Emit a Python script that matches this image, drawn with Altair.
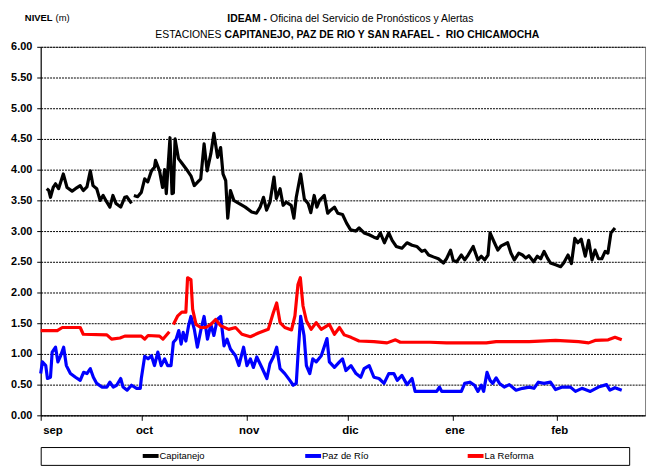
import altair as alt
import pandas as pd

FONT = "Liberation Sans, Arial, sans-serif"
START = pd.Timestamp("2010-09-01")

series_names = ["Capitanejo", "Paz de Río", "La Reforma"]
series_colors = ["#000000", "#0000FF", "#FF0000"]
month_abbr = ["ene", "feb", "mar", "abr", "may", "jun", "jul", "ago", "sep", "oct", "nov", "dic"]
tick_months = [(2010, 9), (2010, 10), (2010, 11), (2010, 12), (2011, 1), (2011, 2)]
y_ticks = [0, 0.5, 1, 1.5, 2, 2.5, 3, 3.5, 4, 4.5, 5, 5.5, 6]

# days after 1 Sep
cap_days = [1.8, 2.4, 2.9, 3.7, 4.4, 5.3, 6.7, 7.8, 9.3, 10.3,
            11.7, 12.6, 13.7, 14.7, 15.5, 16.6, 17.6, 18.5, 19.6, 20.5,
            21.4, 22.3, 23.7, 24.9, 25.5, 26.9, 27.6, 28.7, 29.8, 30.8,
            31.7, 32.8, 33.7, 34.0, 35.2, 36.1, 36.7, 37.2, 38.3, 38.9,
            39.3, 39.8, 40.8, 41.9, 43.0, 44.5, 45.5, 46.9, 47.4, 48.4,
            49.3, 50.4, 51.3, 52.4, 53.3, 54.0, 54.8, 55.4, 56.2, 57.2,
            58.7, 60.6, 62.5, 63.9, 65.0, 66.0, 66.9, 67.9, 69.1, 69.8,
            70.9, 71.8, 72.7, 74.2, 75.0, 75.7, 77.0, 78.1, 79.2, 80.0,
            81.0, 81.8, 82.6, 84.0, 85.0, 85.9, 87.0, 88.0, 89.4, 90.6,
            91.8, 93.3, 94.3, 95.8, 97.3, 98.7, 99.7, 100.6, 101.8, 103.1,
            104.1, 105.3, 107.0, 108.5, 110.0, 111.4, 112.9, 113.8, 114.9, 116.3,
            117.8, 119.3, 120.2, 121.4, 122.2, 123.2, 124.6, 125.6, 126.6, 128.1,
            129.5, 130.5, 131.5, 132.5, 133.1, 134.4, 135.4, 136.4, 138.3, 139.3,
            140.3, 141.6, 142.7, 143.7, 144.6, 146.0, 147.1, 148.1, 149.1, 150.1,
            151.0, 152.5, 154.0, 154.9, 156.2, 157.2, 158.2, 159.1, 160.1, 161.3,
            162.3, 163.3, 164.2, 165.2, 166.2, 167.2, 168.0, 168.9, 170.1]
cap_vals = [3.69, 3.66, 3.55, 3.71, 3.77, 3.69, 3.93, 3.71, 3.65, 3.69,
            3.74, 3.66, 3.72, 3.98, 3.74, 3.69, 3.50, 3.58, 3.47, 3.39,
            3.58, 3.45, 3.39, 3.55, 3.56, 3.45, 3.58, 3.56, 3.63, 3.85,
            3.80, 3.98, 4.04, 4.15, 3.98, 3.71, 4.00, 3.61, 4.52, 3.61,
            3.62, 4.50, 4.18, 4.10, 4.02, 3.90, 3.74, 3.82, 3.85, 4.42,
            3.98, 4.26, 4.59, 4.20, 4.36, 3.93, 3.82, 3.21, 3.66, 3.50,
            3.45, 3.39, 3.31, 3.29, 3.39, 3.55, 3.34, 3.47, 3.88, 3.53,
            3.69, 3.42, 3.47, 3.42, 3.21, 3.55, 3.93, 3.52, 3.45, 3.30,
            3.58, 3.39, 3.50, 3.58, 3.29, 3.34, 3.39, 3.29, 3.27, 3.13,
            3.02, 3.00, 3.05, 2.97, 2.94, 2.90, 2.88, 2.97, 2.81, 2.97,
            2.85, 2.75, 2.72, 2.81, 2.77, 2.75, 2.67, 2.69, 2.61, 2.58,
            2.55, 2.48, 2.55, 2.69, 2.52, 2.50, 2.61, 2.53, 2.61, 2.75,
            2.53, 2.59, 2.53, 2.61, 2.97, 2.81, 2.69, 2.76, 2.81, 2.64,
            2.53, 2.64, 2.61, 2.56, 2.60, 2.50, 2.59, 2.55, 2.67, 2.56,
            2.48, 2.45, 2.42, 2.48, 2.61, 2.47, 2.88, 2.81, 2.87, 2.59,
            2.85, 2.53, 2.69, 2.55, 2.55, 2.67, 2.64, 2.97, 3.05]
cap_breaks = [27.2]

paz_days = [0, 0.5, 1.5, 2.0, 2.9, 3.4, 4.4, 5.1, 5.9, 6.8,
            7.6, 8.8, 10.3, 11.7, 12.7, 13.7, 14.7, 15.6, 16.6, 18.1,
            19.6, 20.5, 21.5, 22.5, 23.7, 24.4, 25.6, 26.9, 28.4, 29.5,
            29.8, 30.8, 31.8, 32.8, 33.7, 34.7, 35.7, 36.7, 37.6, 38.6,
            39.3, 40.1, 40.9, 41.6, 42.2, 43.0, 43.8, 44.5, 45.5, 46.4,
            47.4, 48.4, 49.4, 50.4, 51.3, 52.3, 53.3, 54.3, 55.2, 56.2,
            57.7, 58.7, 60.1, 61.1, 62.1, 63.0, 64.0, 65.5, 67.0, 67.9,
            68.9, 69.9, 70.9, 72.3, 73.8, 74.8, 75.7, 76.2, 77.0, 78.0,
            78.7, 79.7, 80.6, 81.6, 83.1, 84.8, 85.5, 87.0, 88.5, 89.4,
            90.4, 91.9, 93.4, 94.8, 95.8, 97.3, 98.7, 100.2, 101.7, 103.1,
            104.6, 105.6, 107.0, 108.5, 110.0, 110.9, 117.3, 118.1, 118.8, 124.6,
            125.6, 127.1, 128.5, 129.5, 130.5, 131.2, 132.2, 133.1, 133.9, 134.9,
            135.9, 137.3, 138.8, 140.8, 142.7, 144.7, 146.1, 147.4, 149.1, 151.0,
            152.5, 154.5, 156.9, 158.4, 160.3, 162.8, 165.2, 167.6, 168.6, 170.1,
            172.1]
paz_vals = [0.68, 0.87, 0.81, 0.60, 0.62, 1.03, 1.11, 0.87, 0.97, 1.11,
            0.81, 0.68, 0.62, 0.57, 0.70, 0.68, 0.76, 0.62, 0.52, 0.46,
            0.46, 0.54, 0.46, 0.49, 0.60, 0.46, 0.41, 0.49, 0.44, 0.44,
            0.60, 0.96, 0.92, 0.97, 0.81, 1.03, 0.81, 0.92, 0.81, 0.81,
            1.19, 1.24, 1.38, 1.16, 1.35, 1.21, 1.46, 1.61, 1.40, 1.11,
            1.38, 1.61, 1.24, 1.48, 1.30, 1.56, 1.61, 1.13, 1.24, 1.08,
            0.97, 0.81, 1.11, 0.81, 0.92, 0.78, 0.95, 0.78, 0.60, 0.84,
            0.95, 1.11, 0.76, 0.68, 0.57, 0.49, 0.52, 0.97, 1.61, 1.30,
            0.81, 0.68, 0.92, 0.87, 0.97, 1.25, 0.87, 0.78, 0.87, 0.92,
            0.73, 0.81, 0.68, 0.62, 0.76, 0.81, 0.62, 0.60, 0.52, 0.68,
            0.68, 0.57, 0.65, 0.50, 0.60, 0.39, 0.39, 0.46, 0.39, 0.39,
            0.52, 0.54, 0.49, 0.39, 0.49, 0.39, 0.70, 0.57, 0.52, 0.61,
            0.52, 0.46, 0.50, 0.41, 0.44, 0.46, 0.44, 0.54, 0.52, 0.54,
            0.42, 0.46, 0.46, 0.39, 0.44, 0.39, 0.46, 0.50, 0.41, 0.45,
            0.41]
paz_breaks = []

ref_days = [0, 4.9, 6.4, 11.7, 12.6, 19.6, 21.0, 23.5, 24.9, 27.9,
            29.8, 30.8, 31.8, 35.2, 36.2, 38.1,
            39.3, 40.6, 41.8, 43.0, 43.5, 44.5, 45.0, 46.0, 47.4, 48.9,
            50.4, 51.8, 53.3, 55.7, 57.7, 59.6, 62.1, 64.5, 67.4, 68.9,
            69.9, 70.9, 72.3, 74.3, 75.3, 76.2, 76.9, 77.7, 78.7, 80.1,
            81.6, 83.1, 85.5, 87.0, 88.5, 89.9, 91.9, 94.3, 98.7, 102.6,
            105.1, 106.5, 115.3, 120.2, 127.1, 132.0, 134.9, 144.7, 152.5, 159.3,
            162.3, 164.2, 168.1, 170.1, 172.1]
ref_vals = [1.38, 1.38, 1.43, 1.43, 1.32, 1.31, 1.24, 1.26, 1.29, 1.29,
            1.29, 1.24, 1.30, 1.29, 1.24, 1.36,
            1.48, 1.62, 1.68, 1.68, 2.24, 2.21, 1.73, 1.48, 1.43, 1.43,
            1.48, 1.56, 1.46, 1.40, 1.43, 1.32, 1.28, 1.34, 1.40, 1.67,
            1.83, 1.51, 1.43, 1.39, 1.62, 2.13, 2.24, 1.78, 1.54, 1.40,
            1.51, 1.40, 1.48, 1.32, 1.43, 1.31, 1.27, 1.21, 1.20, 1.18,
            1.23, 1.19, 1.19, 1.18, 1.18, 1.18, 1.20, 1.20, 1.22, 1.20,
            1.18, 1.22, 1.23, 1.27, 1.23]
ref_breaks = [38.7]


def rows_for(name, days, vals, breaks):
    out = []
    for d, v in zip(days, vals):
        seg = sum(1 for b in breaks if d > b)
        out.append({
            "fecha": START + pd.to_timedelta(d, unit="D"),
            "nivel": v,
            "estacion": name,
            "tramo": f"{name}-{seg}",
        })
    return out


df = pd.DataFrame(
    rows_for(series_names[0], cap_days, cap_vals, cap_breaks)
    + rows_for(series_names[1], paz_days, paz_vals, paz_breaks)
    + rows_for(series_names[2], ref_days, ref_vals, ref_breaks)
)

month_js = "[" + ",".join(f"'{m}'" for m in month_abbr) + "]"
color_scale = alt.Scale(domain=series_names, range=series_colors)

lines = alt.Chart(df).mark_line(strokeWidth=3.2, strokeJoin="round").encode(
    x=alt.X(
        "fecha:T",
        scale=alt.Scale(
            domain=[alt.DateTime(year=2010, month=9, date=1),
                    alt.DateTime(year=2011, month=2, date=27)],
            nice=False,
        ),
        axis=alt.Axis(
            values=[alt.DateTime(year=y, month=m, date=1) for y, m in tick_months],
            labelExpr=f"{month_js}[month(datum.value)]",
            title=None, grid=False, tickSize=5, labelPadding=4, labelOffset=2,
            labelFontSize=11.5, labelFontWeight="bold", labelColor="black",
            domainColor="black", tickColor="black", labelFont=FONT,
        ),
    ),
    y=alt.Y(
        "nivel:Q",
        scale=alt.Scale(domain=[0, 6], nice=False),
        axis=alt.Axis(
            values=y_ticks, format=".2f", title=None, grid=True,
            gridColor="black", gridDash=[2, 1], gridWidth=1,
            tickSize=4, labelPadding=5,
            labelFontSize=11, labelFontWeight="bold", labelColor="black",
            domainColor="black", tickColor="black", labelFont=FONT,
        ),
    ),
    color=alt.Color("estacion:N", scale=color_scale, legend=None),
    detail="tramo:N",
)


def label(text, x, y, weight="normal", align="left", size=10.5):
    return alt.Chart(pd.DataFrame({"t": [text]})).mark_text(
        align=align, baseline="middle", fontWeight=weight, fontSize=size,
        font=FONT, color="black",
    ).encode(text="t:N", x=alt.value(x), y=alt.value(y))


title_nivel = "NIVEL"
title_unit = "(m)"
title_1a = "IDEAM -"
title_1b = "Oficina del Servicio de Pronósticos y Alertas"
title_2a = "ESTACIONES"
title_2b = "CAPITANEJO, PAZ DE RIO Y SAN RAFAEL - \u00a0RIO CHICAMOCHA"

main = alt.layer(
    lines,
    label(title_nivel, -16, -29, "bold", "left", 9.5),
    label(title_unit, 15, -29, "normal", "left", 9.5),
    label(title_1a, 228.5, -28, "bold", "right"),
    label(title_1b, 231.5, -28, "normal", "left"),
    label(title_2a, 182.5, -12, "normal", "right"),
    label(title_2b, 185.5, -12, "bold", "left"),
).properties(
    width=610, height=372,
    view=alt.ViewBackground(stroke="#808080", strokeWidth=1),
)

leg_df = pd.DataFrame({"estacion": series_names})
leg_x = alt.X("estacion:N",
              scale=alt.Scale(type="point", domain=series_names,
                              range=[111, 439], padding=0),
              axis=None)
leg_sym = alt.Chart(leg_df).mark_point(
    shape="stroke", size=256, strokeWidth=4, opacity=1
).encode(x=leg_x, y=alt.value(9),
         color=alt.Color("estacion:N", scale=color_scale, legend=None))
leg_txt = alt.Chart(leg_df).mark_text(
    align="left", baseline="middle", dx=9, fontSize=9.5, font=FONT, color="black"
).encode(x=leg_x, y=alt.value(9), text="estacion:N")

legend = alt.layer(leg_sym, leg_txt).properties(
    width=594, height=18,
    view=alt.ViewBackground(stroke="black", strokeWidth=1),
)

chart = alt.vconcat(main, legend, spacing=32, bounds="flush").properties(
    padding={"left": 2, "top": 2, "right": 2, "bottom": 2},
).configure(font=FONT, background="white")

chart.save("out.html", embed_options={"renderer": "svg", "actions": False})
